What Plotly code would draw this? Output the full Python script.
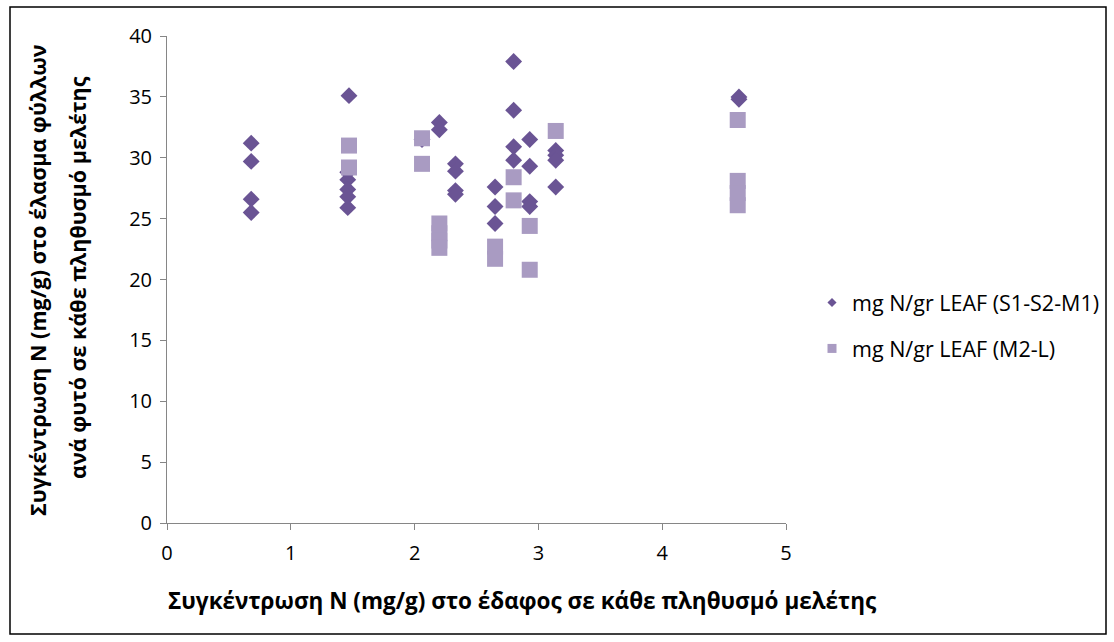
import plotly.graph_objects as go

# Series 1: mg N/gr LEAF (S1-S2-M1)
s1_x = [0.68, 0.68, 0.68, 0.68,
        1.47, 1.46, 1.46, 1.46, 1.46, 1.46,
        2.06, 2.2, 2.2,
        2.33, 2.33, 2.33, 2.33,
        2.65, 2.65, 2.65,
        2.8, 2.8, 2.8, 2.8,
        2.93, 2.93, 2.93, 2.93,
        3.14, 3.14, 3.14, 3.14,
        4.62, 4.62]
s1_y = [31.2, 29.7, 26.6, 25.5,
        35.1, 28.8, 28.2, 27.4, 26.8, 25.9,
        31.5, 32.9, 32.3,
        29.5, 28.9, 27.3, 27.0,
        27.6, 26.0, 24.6,
        37.9, 33.9, 30.9, 29.8,
        31.5, 29.3, 26.4, 26.0,
        30.6, 30.2, 29.8, 27.6,
        35.0, 34.8]

# Series 2: mg N/gr LEAF (M2-L)
s2_x = [1.47, 1.47,
        2.06, 2.06,
        2.2, 2.2, 2.2, 2.2,
        2.65, 2.65,
        2.8, 2.8,
        2.93, 2.93,
        3.14,
        4.61, 4.61, 4.61, 4.61]
s2_y = [31.0, 29.2,
        31.6, 29.5,
        24.6, 23.8, 23.2, 22.6,
        22.7, 21.7,
        28.4, 26.5,
        24.4, 20.8,
        32.2,
        33.1, 28.1, 27.1, 26.1]

names = ["mg N/gr LEAF (S1-S2-M1)", "mg N/gr LEAF (M2-L)"]
x_ticks = [0, 1, 2, 3, 4, 5]
y_ticks = [0, 5, 10, 15, 20, 25, 30, 35, 40]
x_title = "Συγκέντρωση N (mg/g) στο έδαφος σε κάθε πληθυσμό μελέτης"
y_title_lines = ["Συγκέντρωση N (mg/g) στο έλασμα φύλλων",
                 "ανά φυτό σε κάθε πληθυσμό μελέτης"]

c1 = "#6A5494"
c2 = "#A99BC2"
FONT = "Open Sans"

fig = go.Figure()
fig.add_trace(go.Scatter(x=s1_x, y=s1_y, mode="markers", name=names[0],
                         marker=dict(symbol="diamond", size=13, color=c1),
                         showlegend=False))
fig.add_trace(go.Scatter(x=s2_x, y=s2_y, mode="markers", name=names[1],
                         marker=dict(symbol="square", size=16, color=c2),
                         showlegend=False))
# legend entries (small symbols like the reference)
fig.add_trace(go.Scatter(x=[None], y=[None], mode="markers", name=names[0],
                         marker=dict(symbol="diamond", size=7, color=c1),
                         legendgroup="a"))
fig.add_trace(go.Scatter(x=[None], y=[None], mode="markers", name=names[1],
                         marker=dict(symbol="square", size=9, color=c2),
                         legendgroup="b"))

axis_common = dict(showline=True, linecolor="#868686", linewidth=1,
                   ticks="outside", ticklen=6, tickcolor="#868686",
                   showgrid=False, zeroline=False,
                   tickfont=dict(family=FONT, size=20, color="#000000"))

annotations = [
    dict(text="<b>" + x_title + "</b>", xref="paper", yref="paper",
         x=(522 - 167) / 619, y=(523 - 600) / 487, xanchor="center", yanchor="middle",
         showarrow=False, font=dict(family=FONT, size=22.5, color="#000000")),
    dict(text="<b>" + y_title_lines[0] + "</b>", xref="paper", yref="paper",
         x=(37 - 167) / 619, y=(523 - 280) / 487, xanchor="center", yanchor="middle",
         textangle=-90, showarrow=False, font=dict(family=FONT, size=21.5, color="#000000")),
    dict(text="<b>" + y_title_lines[1] + "</b>", xref="paper", yref="paper",
         x=(77 - 167) / 619, y=(523 - 278) / 487, xanchor="center", yanchor="middle",
         textangle=-90, showarrow=False, font=dict(family=FONT, size=21.5, color="#000000")),
]

fig.update_layout(
    width=1114, height=642,
    margin=dict(l=167, r=328, t=36, b=119, autoexpand=False),
    paper_bgcolor="white", plot_bgcolor="white",
    font=dict(family=FONT, color="#000000"),
    xaxis=dict(range=[0, 5], tickvals=x_ticks, ticklabelstandoff=6, **axis_common),
    yaxis=dict(range=[0, 40], tickvals=y_ticks, ticklabelstandoff=4, **axis_common),
    legend=dict(x=(812 - 167) / 619, y=(523 - 282) / 487, xanchor="left", yanchor="top",
                font=dict(family=FONT, size=21.5, color="#000000"),
                tracegroupgap=15, traceorder="grouped",
                bgcolor="rgba(0,0,0,0)"),
    annotations=annotations,
    shapes=[dict(type="rect", xref="paper", yref="paper",
                 x0=(10 - 167) / 619, x1=(1106 - 167) / 619,
                 y0=(523 - 634) / 487, y1=(523 - 7) / 487,
                 line=dict(color="#000000", width=1.5), layer="below")],
)

fig.write_html("out.html")
